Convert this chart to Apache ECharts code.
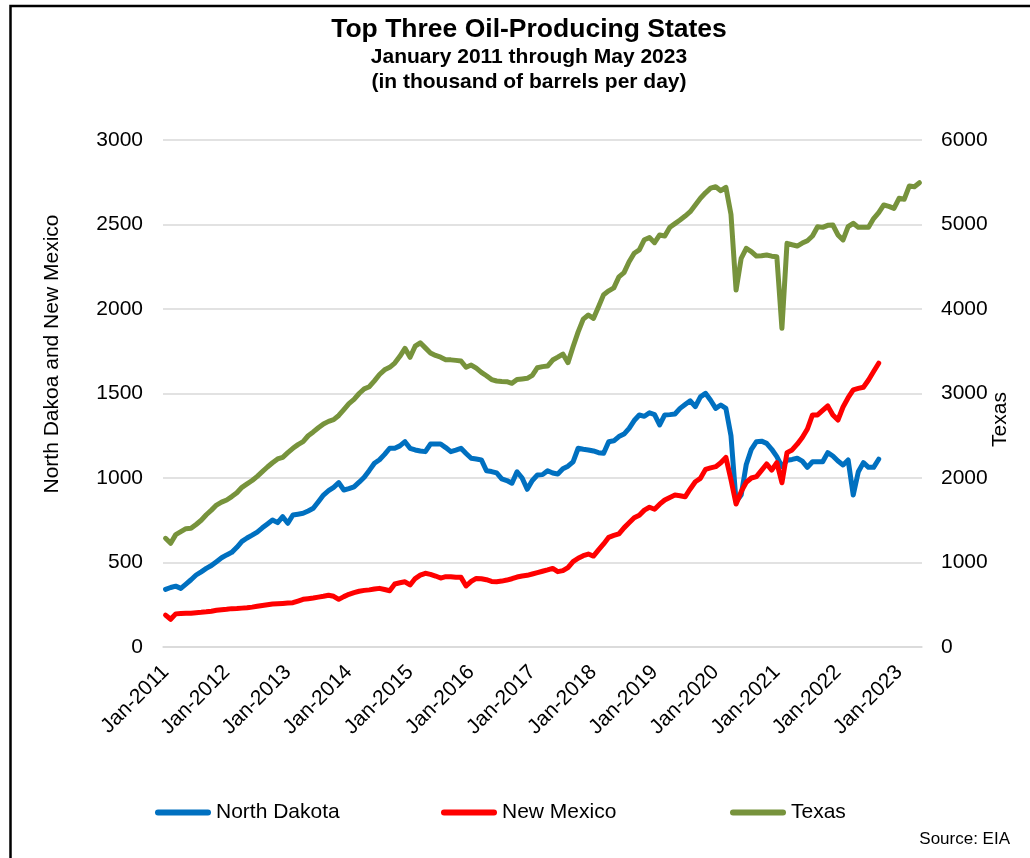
<!DOCTYPE html>
<html>
<head>
<meta charset="utf-8">
<title>Top Three Oil-Producing States</title>
<script src="https://cdn.jsdelivr.net/npm/echarts@6/dist/echarts.min.js"></script>
<style>
  html, body { margin: 0; padding: 0; background: #ffffff; }
  #chart { width: 1030px; height: 858px; }
</style>
</head>
<body>
<div id="chart"></div>
<script>
// Monthly crude oil production, thousand barrels per day
const startYear = 2011;
const monthCount = 149; // Jan-2011 .. May-2023
const monthNames = ['Jan', 'Feb', 'Mar', 'Apr', 'May', 'Jun', 'Jul', 'Aug', 'Sep', 'Oct', 'Nov', 'Dec'];
const months = [];
for (let i = 0; i < monthCount; i++) {
  months.push(monthNames[i % 12] + '-' + (startYear + Math.floor(i / 12)));
}

const northDakota = [
  341, 352, 360, 347, 372, 398, 426, 445, 465, 482, 505, 528,
  545, 560, 590, 625, 645, 662, 680, 705, 728, 751, 736, 771,
  732, 781, 786, 791, 805, 821, 860, 899, 925, 945, 972, 929,
  937, 948, 975, 1005, 1045, 1087, 1108, 1140, 1176, 1176, 1190, 1215,
  1176, 1166, 1160, 1156, 1201, 1201, 1201, 1180, 1156, 1165, 1176, 1145,
  1117, 1112, 1107, 1043, 1038, 1030, 995, 985, 969, 1037, 1000, 933,
  985, 1018, 1020, 1043, 1030, 1024, 1055, 1070, 1096, 1176, 1170, 1166,
  1160, 1150, 1146, 1215, 1220, 1245, 1260, 1294, 1340, 1373, 1365, 1386,
  1375, 1314, 1373, 1375, 1379, 1412, 1435, 1457, 1422, 1480, 1501, 1460,
  1412, 1432, 1412, 1250, 860, 899, 1080, 1170, 1215, 1218, 1205, 1170,
  1126, 1067, 1105, 1110, 1117, 1100, 1063, 1096, 1096, 1096, 1150, 1130,
  1100, 1077, 1107, 899, 1037, 1091, 1063, 1063, 1111
];

const newMexico = [
  189, 164, 196, 198, 199, 200, 203, 205, 208, 212, 217, 220,
  223, 227, 228, 230, 232, 236, 241, 246, 250, 254, 256, 258,
  260, 262, 272, 282, 286, 290, 295, 300, 306, 300, 282, 298,
  312, 322, 330, 335, 338, 343, 347, 340, 333, 373, 380, 386,
  367, 405, 425, 436, 430, 420, 408, 416, 416, 413, 412, 361,
  388, 406, 404, 398, 388, 386, 390, 396, 404, 414, 420, 424,
  432, 440, 448, 456, 465, 446, 452, 470, 505, 525, 540, 550,
  538, 575, 610, 649, 660, 669, 705, 735, 765, 780, 810, 827,
  815, 845, 870, 885, 899, 895, 889, 935, 978, 998, 1051, 1060,
  1067, 1090, 1122, 990, 846, 919, 975, 1000, 1008, 1045, 1083, 1047,
  1091, 972, 1150, 1166, 1200, 1240, 1290, 1373, 1373, 1400, 1426, 1373,
  1343, 1420, 1475, 1521, 1530, 1537, 1580, 1630, 1679
];

const texas = [
  1286, 1227, 1330, 1365, 1400, 1404, 1450, 1500, 1565, 1620, 1680, 1715,
  1740, 1780, 1825, 1890, 1930, 1970, 2020, 2075, 2130, 2180, 2225, 2245,
  2300, 2351, 2395, 2430, 2500, 2545, 2595, 2640, 2670, 2690, 2740, 2810,
  2880, 2930, 3000, 3055, 3080, 3150, 3225, 3280, 3310, 3360, 3440, 3535,
  3428, 3560, 3600, 3540, 3480, 3450, 3430, 3400, 3398, 3392, 3385, 3310,
  3337, 3300, 3250, 3210, 3165, 3148, 3142, 3140, 3120, 3165, 3172, 3180,
  3215, 3305, 3318, 3325, 3396, 3430, 3467, 3365, 3554, 3730, 3880, 3929,
  3889, 4027, 4170, 4215, 4250, 4380, 4430, 4560, 4660, 4700, 4820, 4845,
  4785, 4876, 4864, 4967, 5010, 5053, 5100, 5152, 5230, 5310, 5375, 5430,
  5447, 5400, 5440, 5120, 4225, 4600, 4718, 4680, 4627, 4630, 4639, 4625,
  4619, 3772, 4777, 4760, 4745, 4780, 4808, 4864, 4974, 4966, 4990, 4994,
  4876, 4817, 4974, 5014, 4966, 4966, 4967, 5070, 5140, 5231, 5215, 5191,
  5310, 5298, 5455, 5447, 5494
];

const leftAxis = { min: 0, max: 3000, step: 500 };
const rightAxis = { min: 0, max: 6000, step: 1000 };

const FONT = '"Liberation Sans", Arial, Helvetica, sans-serif';
const GRID = '#d9d9d9';
const INK = '#000000';
const COLORS = { nd: '#0070C0', nm: '#FF0000', tx: '#77933C' };

const chart = echarts.init(document.getElementById('chart'), null, { renderer: 'canvas' });

function lineSeries(name, data, color, axisIndex) {
  return {
    name: name,
    type: 'line',
    data: data,
    yAxisIndex: axisIndex,
    symbol: 'none',
    showSymbol: false,
    lineStyle: { width: 5, color: color, cap: 'round', join: 'round' },
    itemStyle: { color: color },
    emphasis: { disabled: true }
  };
}

const capsule = 'path://M3 0H53A3 3 0 0 1 53 6H3A3 3 0 0 1 3 0Z';
function legendAt(name, left) {
  return {
    data: [name],
    left: left,
    top: 802,
    padding: 0,
    icon: capsule,
    itemWidth: 56,
    itemHeight: 6,
    selectedMode: false,
    textStyle: { fontFamily: FONT, fontSize: 21, color: INK }
  };
}

const isYearStart = (i) => i % 12 === 0;
const plainNumber = (v) => String(v);

chart.setOption({
  animation: false,
  backgroundColor: '#ffffff',
  textStyle: { fontFamily: FONT },
  title: {
    text: 'Top Three Oil-Producing States',
    subtext: 'January 2011 through May 2023\n(in thousand of barrels per day)',
    left: 529,
    top: 15,
    textAlign: 'center',
    padding: 0,
    itemGap: 0,
    textStyle: { fontFamily: FONT, fontSize: 26.5, fontWeight: 'bold', color: INK, lineHeight: 30 },
    subtextStyle: { fontFamily: FONT, fontSize: 21, fontWeight: 'bold', color: INK, lineHeight: 25 }
  },
  grid: { left: 163, top: 140, width: 759, height: 507 },
  xAxis: {
    type: 'category',
    data: months,
    boundaryGap: true,
    axisLine: { lineStyle: { color: GRID, width: 1.5 } },
    axisTick: { interval: isYearStart, length: 7, lineStyle: { color: GRID, width: 1.5 } },
    axisLabel: {
      interval: isYearStart,
      rotate: 45,
      fontFamily: FONT,
      fontSize: 21,
      color: INK,
      margin: 22
    },
    splitLine: { show: false }
  },
  yAxis: [
    {
      type: 'value',
      min: leftAxis.min,
      max: leftAxis.max,
      interval: leftAxis.step,
      position: 'left',
      name: 'North Dakoa and New Mexico',
      nameLocation: 'middle',
      nameRotate: 90,
      nameGap: 100,
      nameTextStyle: { fontFamily: FONT, fontSize: 21, color: INK, padding: [0, 0, 0, 79] },
      axisLine: { show: false },
      axisTick: { show: false },
      axisLabel: { fontFamily: FONT, fontSize: 21, color: INK, margin: 20, formatter: plainNumber },
      splitLine: { lineStyle: { color: GRID, width: 1.5 } }
    },
    {
      type: 'value',
      min: rightAxis.min,
      max: rightAxis.max,
      interval: rightAxis.step,
      position: 'right',
      name: 'Texas',
      nameLocation: 'middle',
      nameRotate: 90,
      nameGap: 68,
      nameMoveOverlap: false,
      nameTextStyle: { fontFamily: FONT, fontSize: 21, color: INK, padding: [0, 52, 0, 0] },
      axisLine: { show: false },
      axisTick: { show: false },
      axisLabel: { fontFamily: FONT, fontSize: 21, color: INK, margin: 19, formatter: plainNumber },
      splitLine: { show: false }
    }
  ],
  legend: [
    legendAt('North Dakota', 155),
    legendAt('New Mexico', 441),
    legendAt('Texas', 730)
  ],
  series: [
    lineSeries('North Dakota', northDakota, COLORS.nd, 0),
    lineSeries('New Mexico', newMexico, COLORS.nm, 0),
    lineSeries('Texas', texas, COLORS.tx, 1)
  ],
  graphic: [
    {
      type: 'rect',
      silent: true,
      shape: { x: 10.5, y: 6, width: 1100, height: 1000 },
      style: { fill: null, stroke: '#000000', lineWidth: 2.5 }
    },
    {
      type: 'text',
      right: 20,
      top: 831,
      silent: true,
      style: { text: 'Source: EIA', fontFamily: FONT, fontSize: 17, fill: INK }
    }
  ]
});
</script>
</body>
</html>
